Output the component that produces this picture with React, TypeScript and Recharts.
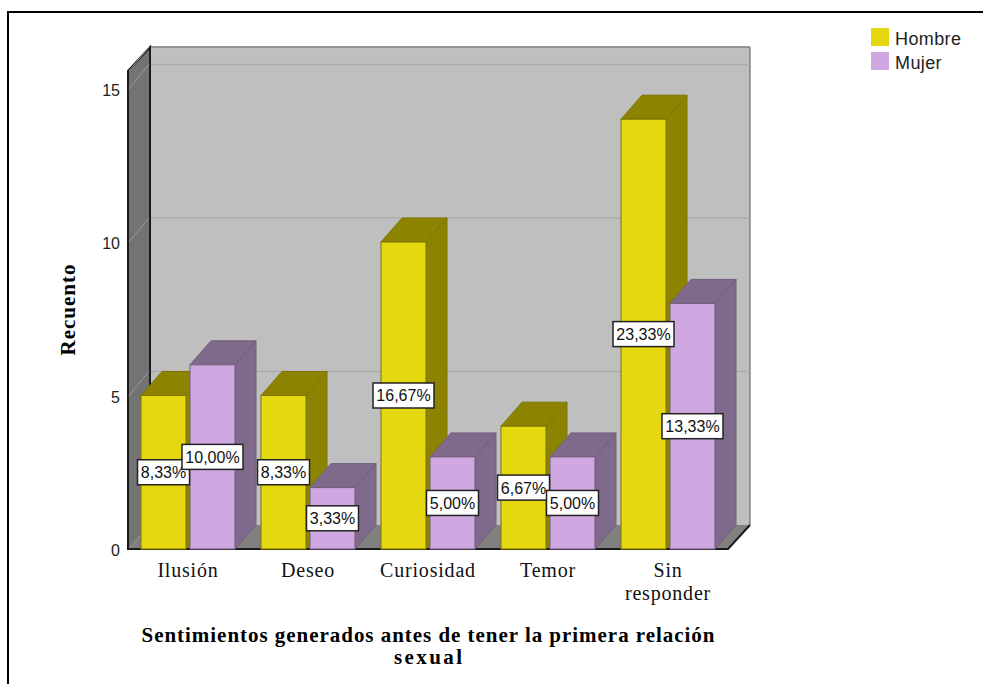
import {
  BarChart, Bar, XAxis, YAxis, CartesianGrid, Legend, LabelList, Customized,
} from "recharts";

const categories = ["Ilusión", "Deseo", "Curiosidad", "Temor", "Sin responder"];
const hombre = [5, 5, 10, 4, 14];
const mujer = [6, 2, 3, 3, 8];
const hombrePct = ["8,33%", "8,33%", "16,67%", "6,67%", "23,33%"];
const mujerPct = ["10,00%", "3,33%", "5,00%", "5,00%", "13,33%"];
const yTicks = [0, 5, 10, 15];
const titleLines = ["Sentimientos generados antes de tener la primera relación", "sexual"];
const titleWidths = [573, 68];

// Depth of the fake 3D box, SPSS style
const DX = 22;
const DY = -24;
const BAR_DX = 21;

const SERIF = "'Liberation Serif', 'Times New Roman', serif";
const SANS = "'Liberation Sans', Arial, sans-serif";

const data = categories.map((name, i) => ({
  name,
  hombre: hombre[i],
  mujer: mujer[i],
  hombrePct: hombrePct[i],
  mujerPct: mujerPct[i],
}));

function Bar3D(props: any) {
  const { x, y, width, height, fill, side, edge } = props;
  const r = x + width;
  const b = y + height;
  return (
    <g>
      <polygon
        points={`${r},${y} ${r + BAR_DX},${y + DY} ${r + BAR_DX},${b + DY} ${r},${b}`}
        fill={side}
        stroke={edge}
        strokeWidth={1}
      />
      <polygon
        points={`${x},${y} ${x + BAR_DX},${y + DY} ${r + BAR_DX},${y + DY} ${r},${y}`}
        fill={side}
        stroke={edge}
        strokeWidth={1}
      />
      <rect x={x} y={y} width={width} height={height} fill={fill} stroke={edge} strokeWidth={1} />
    </g>
  );
}

// Walls and floor behind the bars
function Walls() {
  const l = 128;
  const t = 71;
  const w = 600;
  const h = 478;
  const r = l + w;
  const b = t + h;
  return (
    <g>
      <rect x={l + DX} y={t + DY} width={w} height={h} fill="#bfbfbf" />
      <line x1={r + DX} y1={t + DY} x2={r + DX} y2={b + DY} stroke="#555" strokeWidth={1} />
      <polygon
        points={`${l},${t} ${l + DX},${t + DY} ${l + DX},${b + DY} ${l},${b}`}
        fill="#737373"
      />
      <polygon
        points={`${l},${b} ${l + DX},${b + DY} ${r + DX},${b + DY} ${r},${b}`}
        fill="#808080"
      />
      <line x1={l + DX} y1={t + DY} x2={r + DX} y2={t + DY} stroke="#222" strokeWidth={1.5} />
      <polyline
        points={`${l + DX},${b + DY} ${l + DX},${t + DY} ${l},${t} ${l},${b} ${r},${b} ${r + DX},${b + DY}`}
        fill="none"
        stroke="#1a1a1a"
        strokeWidth={2}
      />
    </g>
  );
}

function GridLine(props: any) {
  const { x1, x2, y1, y2 } = props;
  if (y1 > 540) return null;
  return (
    <g>
      <line x1={x1 + 1} y1={y1} x2={x1 + DX - 1} y2={y2 + DY} stroke="#9a9a9a" strokeWidth={1} />
      <line x1={x1 + DX + 1} y1={y1 + DY} x2={x2 + DX} y2={y2 + DY} stroke="#acacac" strokeWidth={1.5} />
    </g>
  );
}

function CategoryTick(props: any) {
  const { x, y, payload } = props;
  const words = payload.value === "Sin responder" ? ["Sin", "responder"] : [payload.value];
  return (
    <text x={x} y={y} textAnchor="middle" fontFamily={SERIF} fontSize={20} fill="#111" letterSpacing={0.8}>
      {words.map((word: string, i: number) => (
        <tspan key={word} x={x} dy={i === 0 ? 20 : 23}>
          {word}
        </tspan>
      ))}
    </text>
  );
}

function PctLabel(props: any) {
  const { x, y, width, height, value } = props;
  const text = String(value);
  const boxW = text.length > 5 ? 61 : 52;
  const cx = x + width / 2;
  const cy = y + height / 2;
  return (
    <g>
      <rect x={cx - boxW / 2} y={cy - 12.5} width={boxW} height={25} fill="#fff" stroke="#222" strokeWidth={1.5} />
      <text x={cx} y={cy + 6} textAnchor="middle" fontFamily={SANS} fontSize={16} fill="#111">
        {text}
      </text>
    </g>
  );
}

function LegendBox() {
  const items = [
    { label: "Hombre", color: "#e6d80e" },
    { label: "Mujer", color: "#cfa8e2" },
  ];
  return (
    <div style={{ fontFamily: SANS, fontSize: 18, letterSpacing: 0.4, color: "#222", lineHeight: "24px" }}>
      {items.map((it) => (
        <div key={it.label} style={{ display: "flex", alignItems: "center", height: 24 }}>
          <span style={{ width: 18, height: 18, background: it.color, marginRight: 6, display: "inline-block" }} />
          <span style={{ position: "relative", top: 2 }}>{it.label}</span>
        </div>
      ))}
    </div>
  );
}

function Titles() {
  return (
    <g>
      {titleLines.map((line, i) => (
        <text
          key={line}
          x={428}
          y={642 + i * 22}
          textAnchor="middle"
          fontFamily={SERIF}
          fontWeight="bold"
          fontSize={21}
          textLength={titleWidths[i]}
          fill="#000"
        >
          {line}
        </text>
      ))}
      <text
        x={75}
        y={310}
        transform="rotate(-90 75 310)"
        textAnchor="middle"
        fontFamily={SERIF}
        fontWeight="bold"
        fontSize={21}
        textLength={91}
        fill="#000"
      >
        Recuento
      </text>
    </g>
  );
}

export default function App() {
  return (
    <div style={{ position: "absolute", left: 0, top: 0, width: 983, height: 684, background: "#fff", overflow: "hidden" }}>
      <div style={{ position: "absolute", left: 7, top: 11, width: 976, height: 673, borderTop: "2px solid #000", borderLeft: "2px solid #000", boxSizing: "border-box" }} />
      <BarChart
        width={983}
        height={684}
        data={data}
        margin={{ top: 71, right: 255, bottom: 105, left: 68 }}
        barCategoryGap={13}
        barGap={4}
        barSize={45}
        style={{ position: "absolute", left: 0, top: 0 }}
      >
        <Customized component={Walls} />
        <CartesianGrid vertical={false} horizontal={GridLine} zIndex={1} />
        <XAxis dataKey="name" height={30} interval={0} axisLine={false} tickLine={false} tick={CategoryTick} />
        <YAxis
          width={60}
          domain={[0, 15.57]}
          ticks={yTicks}
          axisLine={false}
          tickLine={false}
          tickMargin={2}
          tick={{ fontFamily: SANS, fontSize: 16, fill: "#222", dy: 1.5 }}
        />
        <Legend
          layout="vertical"
          align="center"
          verticalAlign="middle"
          content={<LegendBox />}
          wrapperStyle={{ position: "absolute", left: 871, top: 25, width: 100 }}
        />
        <Bar dataKey="hombre" fill="#e6d80e" isAnimationActive={false} shape={(p: any) => <Bar3D {...p} fill="#e6d80e" side="#8c8400" edge="#7d7600" />}>
          <LabelList dataKey="hombrePct" content={PctLabel} />
        </Bar>
        <Bar dataKey="mujer" fill="#cfa8e2" isAnimationActive={false} shape={(p: any) => <Bar3D {...p} fill="#cfa8e2" side="#806a8b" edge="#725e7c" />}>
          <LabelList dataKey="mujerPct" content={PctLabel} />
        </Bar>
        <Customized component={Titles} />
      </BarChart>
    </div>
  );
}
